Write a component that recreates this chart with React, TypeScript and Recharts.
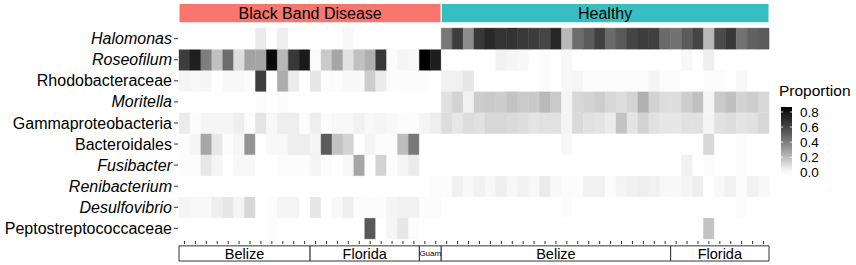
import { Bar, BarChart, Cell, Legend, ReferenceArea, XAxis, YAxis } from 'recharts';

// rows top to bottom
const taxa = [
  'Halomonas',
  'Roseofilum',
  'Rhodobacteraceae',
  'Moritella',
  'Gammaproteobacteria',
  'Bacteroidales',
  'Fusibacter',
  'Renibacterium',
  'Desulfovibrio',
  'Peptostreptococcaceae',
];
const italicTaxa = ['Halomonas', 'Roseofilum', 'Moritella', 'Fusibacter', 'Renibacterium', 'Desulfovibrio'];

const conditions = ['Black Band Disease', 'Healthy'];
const conditionCounts = [24, 30];
const sites = ['Belize', 'Florida', 'Guam', 'Belize', 'Florida'];
const siteCounts = [12, 10, 2, 21, 9];

// proportions per sample: 24 BBD samples, then 30 healthy samples
const halomonas = [
  0, 0, 0, 0, 0, 0, 0, 0.06, 0, 0.05, 0, 0, 0, 0, 0, 0.02, 0, 0, 0, 0, 0, 0, 0, 0,
  0.42, 0.63, 0.35, 0.65, 0.71, 0.67, 0.67, 0.65, 0.63, 0.6, 0.72, 0.21, 0.46, 0.52, 0.62,
  0.47, 0.53, 0.6, 0.63, 0.62, 0.47, 0.44, 0.52, 0.6, 0.21, 0.58, 0.65, 0.44, 0.5, 0.52,
];
const roseofilum = [
  0.63, 0.75, 0.4, 0.19, 0.46, 0.1, 0.28, 0.27, 0.83, 0.22, 0.65, 0.77, 0.01, 0.16, 0.27,
  0.09, 0.19, 0.24, 0.65, 0.01, 0.03, 0.02, 0.85, 0.76,
  0, 0, 0, 0, 0, 0.04, 0.03, 0.02, 0, 0.01, 0, 0.02, 0, 0, 0, 0, 0, 0, 0, 0, 0, 0, 0.02, 0,
  0.05, 0, 0, 0, 0, 0,
];
const rhodobacteraceae = [
  0.03, 0.02, 0.03, 0, 0.02, 0.02, 0.01, 0.63, 0, 0.25, 0.06, 0, 0.07, 0.01, 0.01, 0.02,
  0.02, 0.15, 0.06, 0.01, 0.01, 0.01, 0.01, 0,
  0.04, 0.04, 0.07, 0, 0, 0, 0, 0, 0, 0.01, 0, 0.02, 0.03, 0.01, 0.01, 0.01, 0.01, 0.01,
  0.01, 0.03, 0.01, 0.01, 0, 0, 0.01, 0.01, 0, 0.02, 0, 0,
];
const moritella = [
  0, 0, 0, 0, 0, 0, 0, 0.01, 0, 0.01, 0, 0, 0, 0, 0, 0, 0, 0, 0, 0, 0, 0, 0, 0,
  0.09, 0.13, 0.04, 0.15, 0.16, 0.15, 0.18, 0.16, 0.16, 0.21, 0.16, 0.03, 0.12, 0.13, 0.15,
  0.12, 0.1, 0.13, 0.24, 0.13, 0.1, 0.1, 0.15, 0.19, 0.03, 0.16, 0.19, 0.13, 0.15, 0.12,
];
const gammaproteobacteria = [
  0.06, 0.01, 0.03, 0.03, 0.03, 0.05, 0.01, 0.08, 0.02, 0.05, 0.05, 0.01, 0.05, 0.01, 0.02,
  0.02, 0.04, 0.02, 0.03, 0.02, 0.01, 0.01, 0.03, 0.05,
  0.1, 0.07, 0.1, 0.09, 0.12, 0.12, 0.11, 0.1, 0.08, 0.09, 0.09, 0.03, 0.11, 0.09, 0.08,
  0.06, 0.18, 0.08, 0.13, 0.09, 0.07, 0.07, 0.09, 0.09, 0.03, 0.09, 0.1, 0.08, 0.09, 0.12,
];
const bacteroidales = [
  0.01, 0.03, 0.27, 0.07, 0.01, 0.03, 0.33, 0, 0.02, 0.02, 0.05, 0.05, 0.03, 0.52, 0.18,
  0.13, 0, 0.03, 0.01, 0.01, 0.2, 0.42, 0, 0,
  0, 0, 0, 0, 0, 0, 0, 0, 0, 0, 0, 0.02, 0, 0, 0, 0, 0, 0, 0, 0, 0, 0, 0, 0, 0.12, 0, 0,
  0.01, 0, 0,
];
const fusibacter = [
  0.01, 0.01, 0.07, 0.03, 0, 0.02, 0.02, 0, 0, 0.01, 0.01, 0.01, 0.03, 0.01, 0, 0.02, 0.27,
  0, 0.13, 0.01, 0.03, 0.06, 0, 0,
  0, 0, 0, 0, 0, 0, 0, 0, 0, 0, 0, 0, 0, 0, 0, 0, 0, 0, 0, 0, 0, 0, 0.04, 0, 0.01, 0, 0,
  0.01, 0, 0,
];
const renibacterium = [
  0, 0, 0, 0, 0, 0, 0, 0, 0, 0, 0, 0, 0, 0, 0, 0, 0, 0, 0, 0, 0, 0, 0, 0.01,
  0.01, 0.04, 0.02, 0.04, 0.02, 0.05, 0.02, 0.04, 0.02, 0.06, 0.02, 0.01, 0.01, 0.04, 0.04,
  0.01, 0.03, 0.04, 0.05, 0.04, 0.02, 0.02, 0.03, 0.05, 0, 0.02, 0.04, 0.01, 0.04, 0.02,
];
const desulfovibrio = [
  0.03, 0.02, 0.02, 0.05, 0.07, 0.03, 0.12, 0, 0.01, 0.03, 0.03, 0, 0.07, 0, 0.02, 0.05,
  0.01, 0.01, 0.01, 0.03, 0.04, 0.04, 0.01, 0.01,
  0, 0, 0, 0, 0, 0, 0, 0, 0, 0, 0, 0.01, 0, 0, 0, 0, 0, 0, 0, 0, 0, 0, 0, 0, 0, 0, 0,
  0.01, 0, 0,
];
const peptostreptococcaceae = [
  0, 0, 0, 0, 0, 0, 0, 0, 0.01, 0, 0, 0, 0, 0, 0, 0, 0, 0.53, 0, 0.03, 0.07, 0.01, 0, 0,
  0, 0, 0, 0, 0, 0, 0, 0, 0, 0, 0, 0, 0, 0, 0, 0, 0, 0, 0, 0, 0, 0, 0, 0, 0.18, 0, 0, 0,
  0, 0,
];

const proportions: Record<string, number[]> = {
  Halomonas: halomonas,
  Roseofilum: roseofilum,
  Rhodobacteraceae: rhodobacteraceae,
  Moritella: moritella,
  Gammaproteobacteria: gammaproteobacteria,
  Bacteroidales: bacteroidales,
  Fusibacter: fusibacter,
  Renibacterium: renibacterium,
  Desulfovibrio: desulfovibrio,
  Peptostreptococcaceae: peptostreptococcaceae,
};

const legendTicks = [0, 0.2, 0.4, 0.6, 0.8];

const FILL_MAX = 0.85;
const sampleCount = conditionCounts.reduce((a, b) => a + b, 0);
const samples = Array.from({ length: sampleCount }, (_, i) => `S${i + 1}`);

const chartData = samples.map((sample) => {
  const row: Record<string, string | number> = { sample };
  taxa.forEach((t) => {
    row[t] = 1;
  });
  return row;
});

// white -> black, interpolated on Lab lightness like ggplot's gradient
function shade(v: number) {
  const t = Math.min(Math.max(v / FILL_MAX, 0), 1);
  const L = 100 * (1 - t);
  const Y = L > 8 ? Math.pow((L + 16) / 116, 3) : L / 903.3;
  const s = Y <= 0.0031308 ? 12.92 * Y : 1.055 * Math.pow(Y, 1 / 2.4) - 0.055;
  const g = Math.round(255 * Math.min(Math.max(s, 0), 1));
  return `rgb(${g},${g},${g})`;
}

function spans(names: string[], counts: number[]) {
  let start = 0;
  return names.map((name, i) => {
    const span = { name, first: samples[start], last: samples[start + counts[i] - 1] };
    start += counts[i];
    return span;
  });
}

const conditionSpans = spans(conditions, conditionCounts);
const siteSpans = spans(sites, siteCounts);
const conditionColors = ['#F8766D', '#36BEC0'];

const rowTicks = taxa.map((_, i) => taxa.length - 1 - i + 0.5);

function TaxonTick({ x, y, payload }: any) {
  const name = taxa[taxa.length - 1 - Math.floor(payload.value)];
  return (
    <text
      x={x}
      y={y}
      dy="0.35em"
      textAnchor="end"
      fontSize={16}
      fill="#000"
      fontStyle={italicTaxa.includes(name) ? 'italic' : 'normal'}
    >
      {name}
    </text>
  );
}

function ColorBar() {
  const zeroY = 94.3;
  const perUnit = 75.4;
  const barTop = 29;
  const barBottom = 97;
  const vTop = (zeroY - barTop) / perUnit;
  const vBottom = (zeroY - barBottom) / perUnit;
  const stops = Array.from({ length: 11 }, (_, i) => i / 10);
  return (
    <svg width={86} height={104} style={{ display: 'block' }}>
      <defs>
        <linearGradient id="propGrad" x1="0" y1="1" x2="0" y2="0">
          {stops.map((o) => (
            <stop key={o} offset={o} stopColor={shade(vBottom + (vTop - vBottom) * o)} />
          ))}
        </linearGradient>
      </defs>
      <text x={9} y={18} fontSize={15.5} fill="#000">
        Proportion
      </text>
      <rect x={11} y={barTop} width={11} height={barBottom - barTop} fill="url(#propGrad)" />
      {legendTicks.map((v) => {
        const y = zeroY - v * perUnit;
        return (
          <g key={v}>
            <line x1={11} x2={13.2} y1={y} y2={y} stroke="#fff" strokeWidth={0.8} />
            <line x1={19.8} x2={22} y1={y} y2={y} stroke="#fff" strokeWidth={0.8} />
            <text x={30} y={y} dy="0.36em" fontSize={13.5} fill="#000">
              {v.toFixed(1)}
            </text>
          </g>
        );
      })}
    </svg>
  );
}

export default function App() {
  return (
    <div
      style={{
        position: 'absolute',
        left: 0,
        top: 0,
        width: 856,
        height: 265,
        background: '#fff',
        fontFamily: '"Liberation Sans", Arial, Helvetica, sans-serif',
      }}
    >
      <BarChart
        width={856}
        height={265}
        data={chartData}
        margin={{ top: 26, right: 86, bottom: 0, left: 0 }}
        barCategoryGap={0}
        barGap={0}
      >
        <XAxis
          dataKey="sample"
          type="category"
          interval={0}
          height={24}
          padding={{ left: 1, right: 1 }}
          axisLine={false}
          tick={{ fontSize: 0 }}
          tickFormatter={() => ''}
          tickSize={3}
          tickLine={{ stroke: '#333' }}
        />
        <YAxis
          type="number"
          width={178}
          domain={[-0.1, 10.1]}
          ticks={rowTicks}
          interval={0}
          axisLine={false}
          tickSize={4}
          tickMargin={2}
          tickLine={{ stroke: '#333' }}
          tick={<TaxonTick />}
        />
        {taxa
          .slice()
          .reverse()
          .map((t) => (
            <Bar key={t} dataKey={t} stackId="tiles" isAnimationActive={false}>
              {samples.map((s, i) => {
                const c = shade(proportions[t][i]);
                return <Cell key={s} fill={c} stroke={c} strokeWidth={0.4} />;
              })}
            </Bar>
          ))}
        <ReferenceArea fill="none" fillOpacity={0} stroke="#bdbdbd" strokeWidth={1} ifOverflow="visible" />
        {conditionSpans.map((c, i) => (
          <ReferenceArea
            key={c.name}
            x1={c.first}
            x2={c.last}
            y1={10.25}
            y2={11.17}
            ifOverflow="visible"
            fill={conditionColors[i]}
            fillOpacity={1}
            stroke="#fff"
            strokeWidth={1}
            label={{ value: c.name, position: 'center', fontSize: 16, fill: '#000' }}
          />
        ))}
        {siteSpans.map((s) => (
          <ReferenceArea
            key={s.first}
            x1={s.first}
            x2={s.last}
            y1={-0.33}
            y2={-1.05}
            ifOverflow="visible"
            fill="#fff"
            fillOpacity={1}
            stroke="#333"
            strokeWidth={1}
            label={{ value: s.name, position: 'center', fontSize: s.name === 'Guam' ? 8 : 14.5, fill: '#000' }}
          />
        ))}
        <Legend
          layout="vertical"
          align="center"
          verticalAlign="middle"
          content={() => <ColorBar />}
          wrapperStyle={{ left: 770, top: 78, width: 86, height: 104 }}
        />
      </BarChart>
    </div>
  );
}
